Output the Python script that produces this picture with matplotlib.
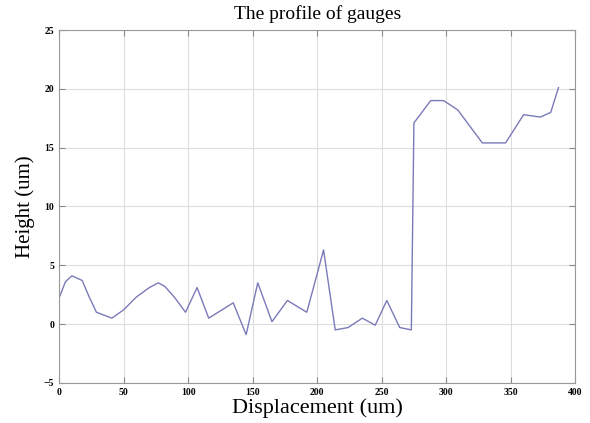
import matplotlib.pyplot as plt
import numpy as np

# profile samples
disp = [0, 5, 10, 18, 23, 29, 41, 50, 60, 70, 77, 82, 90, 98, 107, 116, 135,
        145, 154, 165, 177, 192, 205, 214, 224, 235, 245, 254, 264, 273, 275,
        288, 298, 309, 328, 346, 360, 373, 381, 387]
height = [2.2, 3.6, 4.1, 3.7, 2.4, 1.0, 0.5, 1.2, 2.3, 3.1, 3.5, 3.2, 2.2, 1.0,
          3.1, 0.5, 1.8, -0.9, 3.5, 0.2, 2.0, 1.0, 6.3, -0.5, -0.3, 0.5, -0.1,
          2.0, -0.3, -0.5, 17.1, 19.0, 19.0, 18.2, 15.4, 15.4, 17.8, 17.6,
          18.0, 20.1]

xticks = np.arange(0, 401, 50)
yticks = np.arange(-5, 26, 5)

fig = plt.figure(figsize=(5.9, 4.23), dpi=100)
ax = fig.add_axes([0.1, 0.095, 0.875, 0.834])

ax.plot(disp, height, color='#7a7ab8', lw=1.0)

ax.set_xlim(0, 400)
ax.set_ylim(-5, 25)
ax.set_xticks(xticks)
ax.set_yticks(yticks)
ax.grid(True, color='#dddddd', lw=0.8)
ax.tick_params(direction='in', top=True, right=True, length=4, color='#888888',
               labelsize=7)
for lab in ax.get_xticklabels() + ax.get_yticklabels():
    lab.set_fontweight('bold')
    lab.set_family('Liberation Serif')
for s in ax.spines.values():
    s.set_color('#999999')

ax.set_title('The profile of gauges', family='Liberation Serif', fontsize=14, pad=8)
ax.set_xlabel('Displacement (um)', family='Liberation Serif', fontsize=16, labelpad=1)
ax.set_ylabel('Height (um)', family='Liberation Serif', fontsize=15, labelpad=6)

fig.savefig('out.png', dpi=100)
